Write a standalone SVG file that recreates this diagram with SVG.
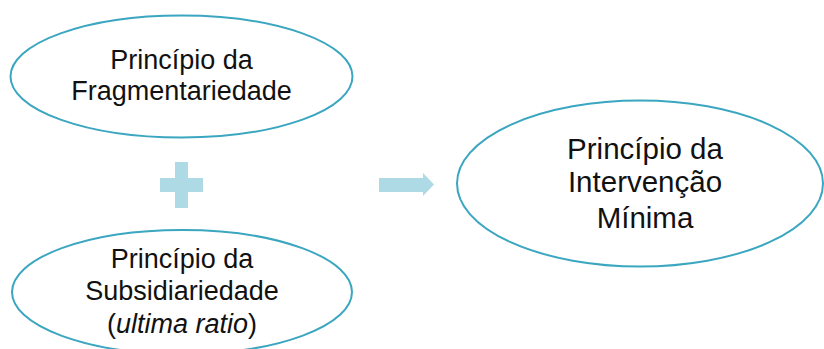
<svg xmlns="http://www.w3.org/2000/svg" width="824" height="349" viewBox="0 0 824 349">
<style>
.node ellipse{fill:#fff;stroke:#3AA6C0;stroke-width:2}
.t{font-family:"Liberation Sans",Arial,sans-serif;fill:#111;text-anchor:middle}
.s{fill:#ADDAE5}
</style>
<rect width="824" height="349" fill="#fff"/>
<g id="n1" class="node">
<ellipse cx="181.5" cy="76.5" rx="171" ry="61"/>
<text class="t" font-size="27" x="181.5" y="69">Princípio da</text>
<text class="t" font-size="27" x="181.5" y="100">Fragmentariedade</text>
</g>
<g id="n2" class="node">
<ellipse cx="182" cy="292" rx="170" ry="62"/>
<text class="t" font-size="27" x="182" y="268">Princípio da</text>
<text class="t" font-size="27" x="182" y="300">Subsidiariedade</text>
<text class="t" font-size="27" x="182" y="333">(<tspan font-style="italic">ultima ratio</tspan>)</text>
</g>
<g id="n3" class="node">
<ellipse cx="640" cy="183.5" rx="183" ry="83"/>
<text class="t" font-size="29.5" x="645" y="159">Princípio da</text>
<text class="t" font-size="29.5" x="645" y="192">Intervenção</text>
<text class="t" font-size="29.5" x="645" y="228">Mínima</text>
</g>
<g id="connectors">
<path class="s" d="M175 162H188V178H203V192H188V208H175V192H160V178H175Z"/>
<path class="s" d="M379 178H423V173L434 184.5L423 196V192H379Z"/>
</g>
</svg>
